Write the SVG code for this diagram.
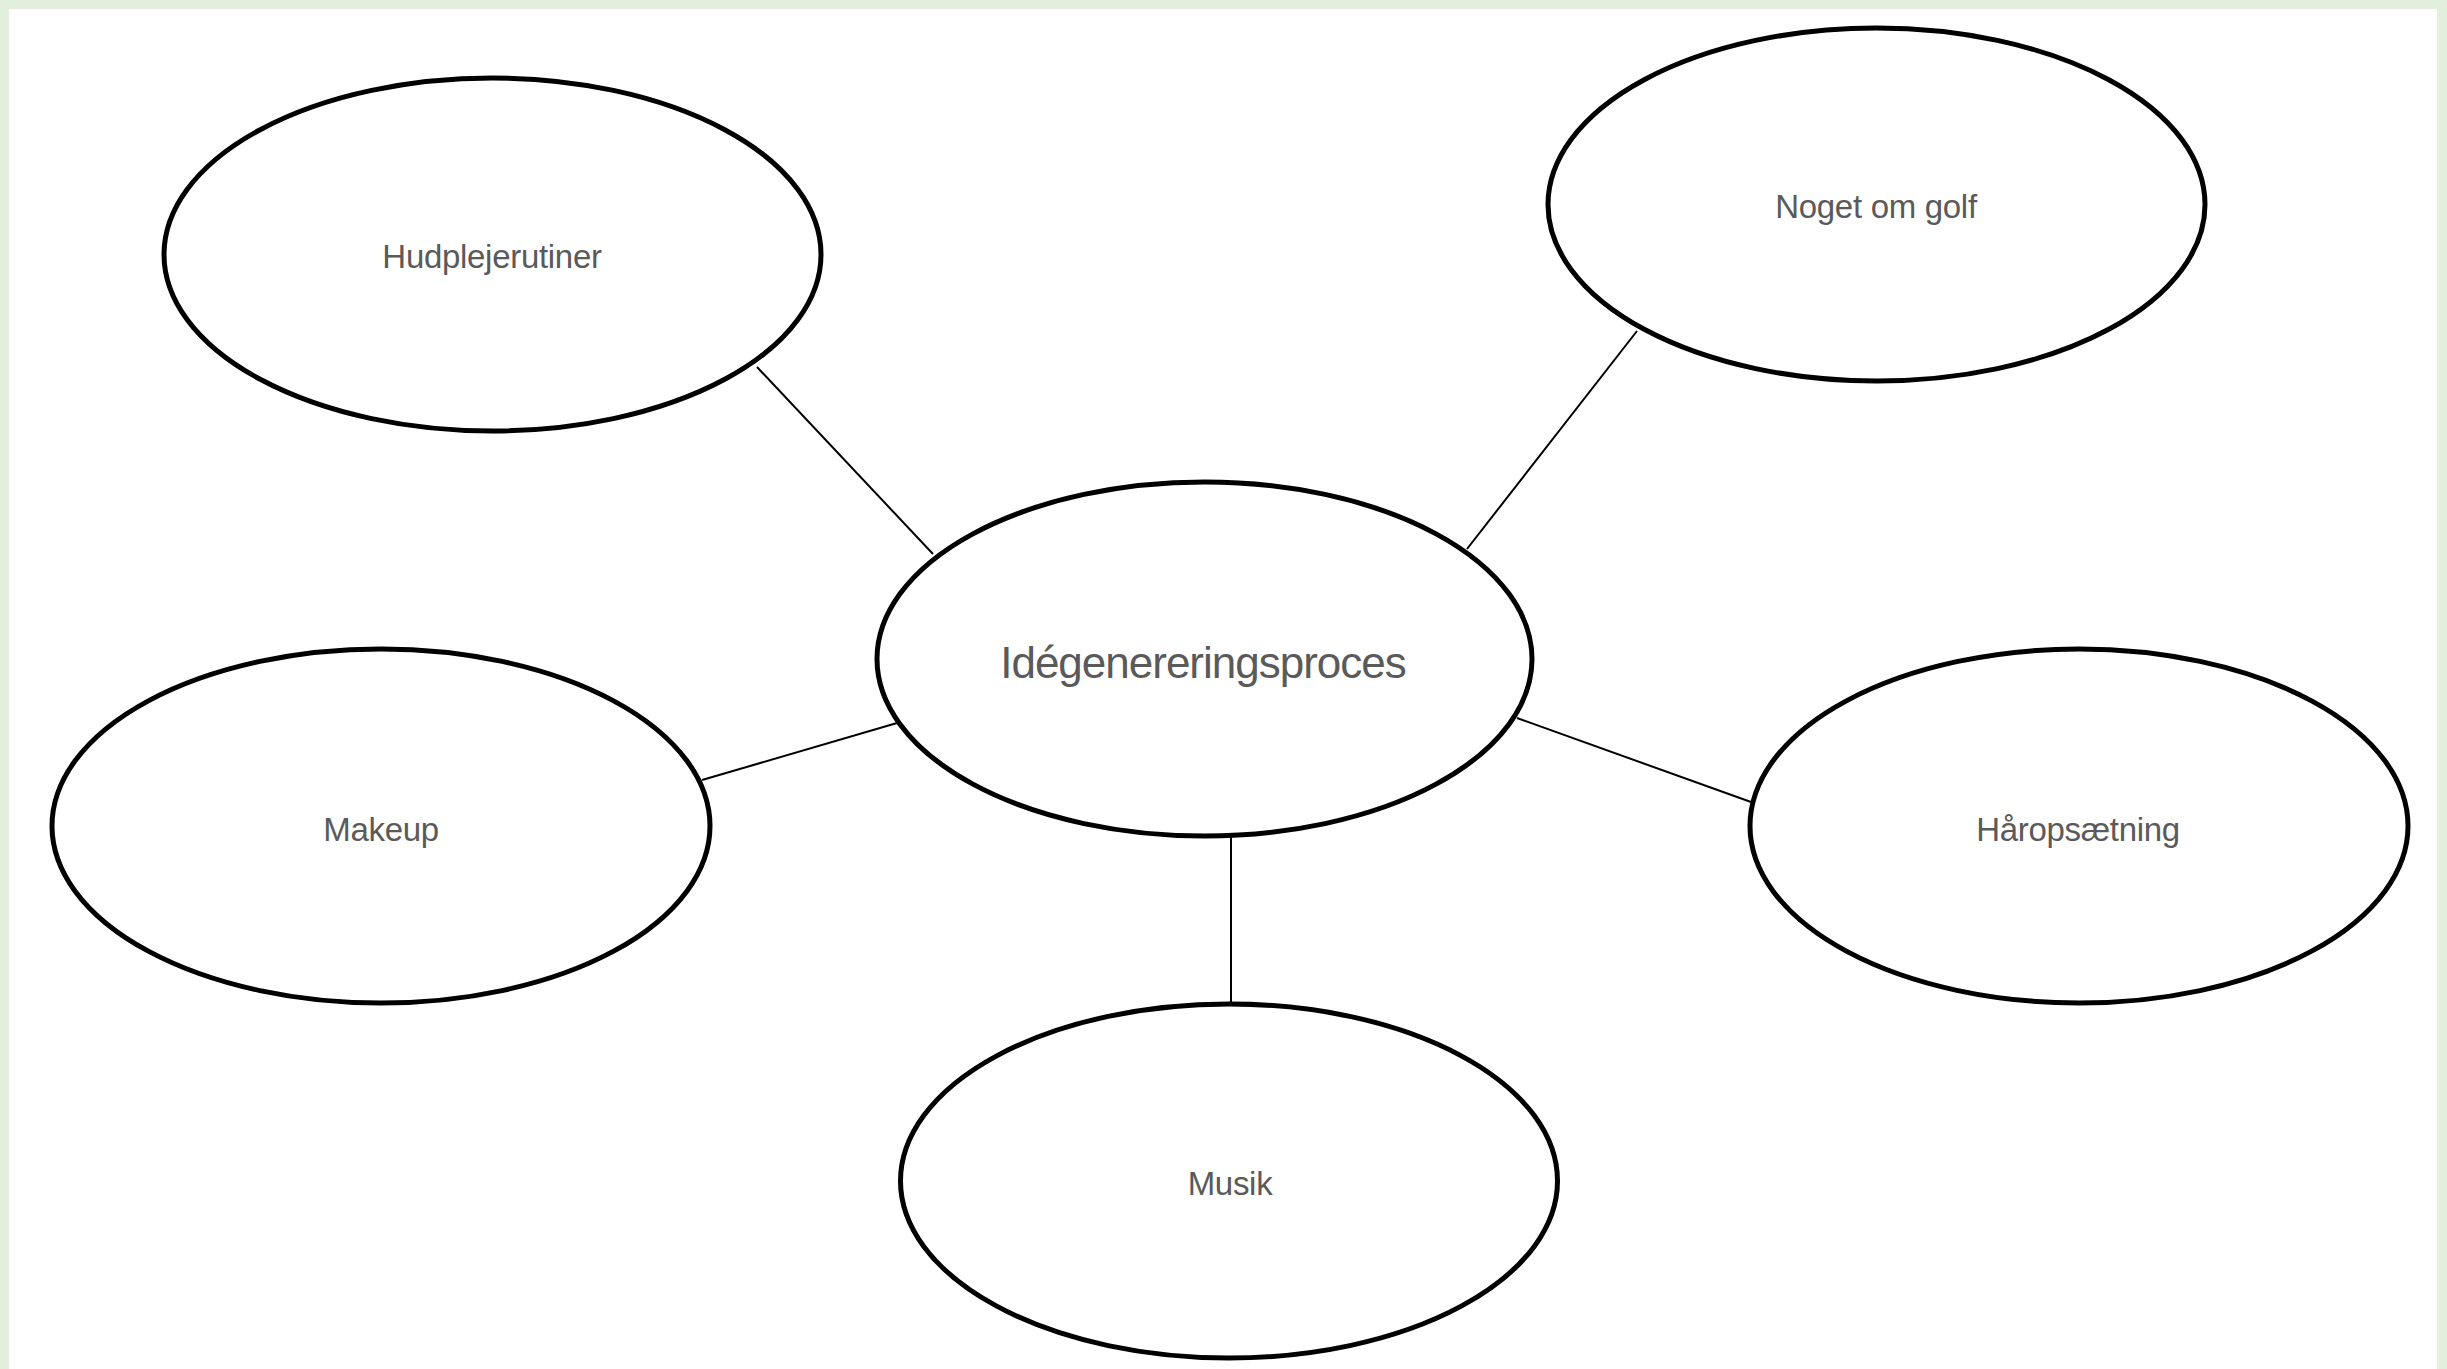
<svg xmlns="http://www.w3.org/2000/svg" width="2447" height="1369" viewBox="0 0 2447 1369">
<style>
.node ellipse{fill:#ffffff;stroke:#000000;stroke-width:5}
.node text{font-family:"Liberation Sans",Arial,Helvetica,sans-serif;fill:#5a5a5a;text-anchor:middle;font-size:33px;letter-spacing:-0.3px}
.node text.big{font-size:44px;letter-spacing:-1px}
.conn line{stroke:#000000;stroke-width:2}
</style>
<rect x="0" y="0" width="2447" height="1369" fill="#e3efdd"/>
<rect x="9" y="9" width="2428" height="1360" fill="#ffffff"/>
<g id="connectors" class="conn">
<line x1="757" y1="367" x2="933" y2="554"/>
<line x1="1637" y1="331" x2="1467" y2="549"/>
<line x1="702" y1="780" x2="897" y2="723"/>
<line x1="1751" y1="802" x2="1517" y2="718"/>
<line x1="1231" y1="836" x2="1231" y2="1003"/>
</g>
<g id="node-hudpleje" class="node">
<ellipse cx="492.5" cy="254.5" rx="328.5" ry="176.5"/>
<text x="492" y="268">Hudplejerutiner</text>
</g>
<g id="node-golf" class="node">
<ellipse cx="1876.5" cy="204.5" rx="328.5" ry="176.5"/>
<text x="1876" y="218">Noget om golf</text>
</g>
<g id="node-center" class="node">
<ellipse cx="1204.5" cy="659" rx="327.5" ry="177"/>
<text class="big" x="1203" y="678">Idégenereringsproces</text>
</g>
<g id="node-makeup" class="node">
<ellipse cx="381" cy="826" rx="329" ry="177"/>
<text x="381" y="841">Makeup</text>
</g>
<g id="node-haar" class="node">
<ellipse cx="2079" cy="826" rx="329" ry="177"/>
<text x="2078" y="841">Håropsætning</text>
</g>
<g id="node-musik" class="node">
<ellipse cx="1229" cy="1181" rx="328.5" ry="177"/>
<text x="1230" y="1195">Musik</text>
</g>
</svg>
